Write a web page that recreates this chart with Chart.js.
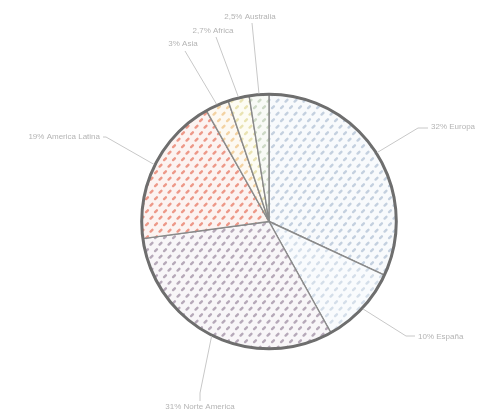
<!DOCTYPE html>
<html>
<head>
<meta charset="utf-8">
<script src="https://cdn.jsdelivr.net/npm/chart.js@4.4.0/dist/chart.umd.min.js"></script>
<style>
html,body{margin:0;padding:0;background:#fff;}
#wrap{width:479px;height:413px;position:relative;}
</style>
</head>
<body>
<div id="wrap"><canvas id="c" width="479" height="413"></canvas></div>
<script>
// Data
const categories = ["Europa", "España", "Norte America", "America Latina", "Asia", "Africa", "Australia"];
const values = [32, 10, 31, 19, 3, 2.7, 2.5];
const labelTexts = ["32% Europa", "10% España", "31% Norte America", "19% America Latina", "3% Asia", "2,7% Africa", "2,5% Australia"];

// Styles
const dashColors = ["#c4d0df", "#d4dee9", "#b6a9b9", "#ed9888", "#f3d2a2", "#e9e3b2", "#cdd9c6"];
const tintColors = ["#f8fafc", "#f9fbfd", "#f8f6f8", "#fcf3f1", "#fdf9f2", "#fdfcf3", "#f8faf6"];
// label layout: elbow point and text placement
const labelLayout = [
  {ex:418, ey:128, tx:431, ty:127, align:"left"},
  {ex:406, ey:336, tx:418, ty:337, align:"left"},
  {ex:200, ey:393, tx:200, ty:407, align:"center"},
  {ex:106, ey:137, tx:100, ty:137, align:"right"},
  {ex:185, ey:51,  tx:183, ty:44,  align:"center"},
  {ex:216, ey:37,  tx:213, ty:31,  align:"center"},
  {ex:252, ey:23,  tx:250, ty:17,  align:"center"}
];

function makePattern(dash, tint) {
  const t = document.createElement("canvas");
  t.width = 9; t.height = 13;
  const g = t.getContext("2d");
  g.fillStyle = tint; g.fillRect(0,0,9,13);
  g.strokeStyle = dash; g.lineWidth = 2.4; g.lineCap = "round";
  const dashAt = (x, y) => { g.beginPath(); g.moveTo(x, y + 0.9); g.lineTo(x + 1.8, y - 0.9); g.stroke(); };
  dashAt(2.1, 3.2);
  dashAt(6.6, 9.7);
  dashAt(-2.4, 9.7);
  return document.getElementById("c").getContext("2d").createPattern(t, "repeat");
}
const patterns = dashColors.map((d,i)=>makePattern(d, tintColors[i]));

const labelPlugin = {
  id: "labelPlugin",
  afterDatasetsDraw(chart) {
    const ctx = chart.ctx;
    const meta = chart.getDatasetMeta(0);
    const arcs = meta.data;
    if (!arcs.length) return;
    const cx = arcs[0].x, cy = arcs[0].y, r = arcs[0].outerRadius;
    // outer ring
    ctx.save();
    ctx.beginPath();
    ctx.arc(cx, cy, r, 0, Math.PI*2);
    ctx.strokeStyle = "#6e6e6e";
    ctx.lineWidth = 3;
    ctx.stroke();
    ctx.restore();
    // labels
    ctx.save();
    ctx.font = "8px 'Liberation Sans', Arial, sans-serif";
    ctx.fillStyle = "#b4b4b4";
    ctx.strokeStyle = "#c8c8c8";
    ctx.lineWidth = 1;
    arcs.forEach((arc, i) => {
      const mid = (arc.startAngle + arc.endAngle) / 2;
      const sx = cx + Math.cos(mid) * (r + 1);
      const sy = cy + Math.sin(mid) * (r + 1);
      const L = labelLayout[i];
      ctx.beginPath();
      ctx.moveTo(sx, sy);
      ctx.lineTo(L.ex, L.ey);
      if (L.align === "left") ctx.lineTo(L.tx - 3, L.ey);
      if (L.align === "right") ctx.lineTo(L.tx + 3, L.ey);
      if (L.align === "center" && L.ty > L.ey) ctx.lineTo(L.ex, L.ty - 6);
      ctx.stroke();
      ctx.textAlign = L.align;
      ctx.textBaseline = "middle";
      ctx.fillText(labelTexts[i], L.tx, L.ty);
    });
    ctx.restore();
  }
};

new Chart(document.getElementById("c"), {
  type: "pie",
  data: {
    labels: categories,
    datasets: [{
      data: values,
      backgroundColor: patterns,
      borderColor: "#8a8a8a",
      borderWidth: 1.4
    }]
  },
  options: {
    responsive: false,
    animation: false,
    layout: { padding: { top: 93, bottom: 63, left: 141, right: 82 } },
    plugins: { legend: { display: false }, tooltip: { enabled: false } }
  },
  plugins: [labelPlugin]
});
</script>
</body>
</html>
